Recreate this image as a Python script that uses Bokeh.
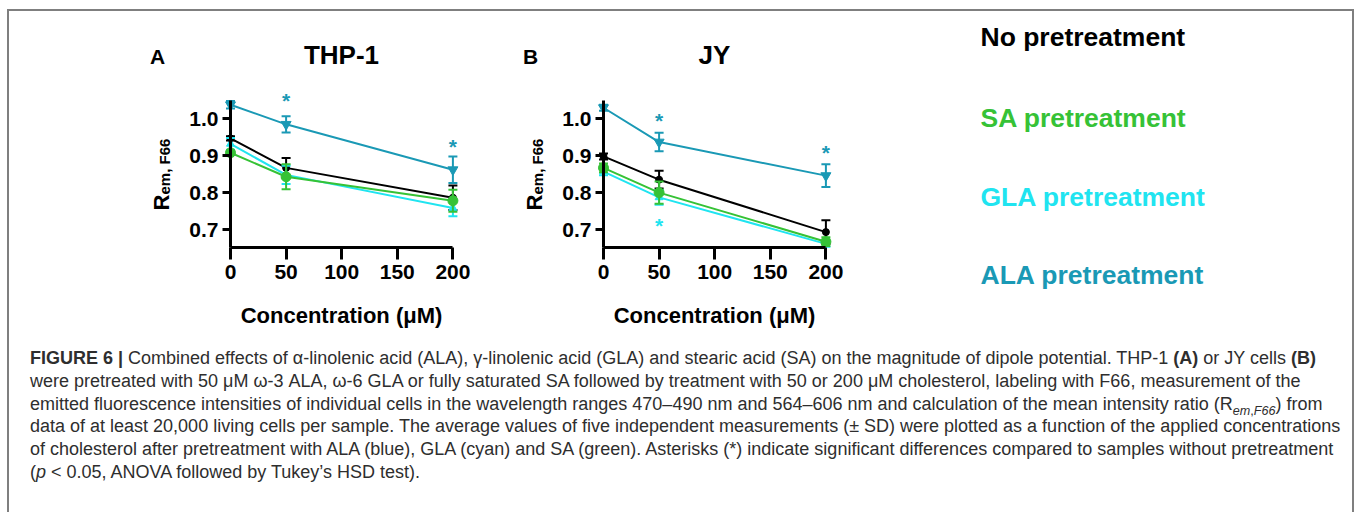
import numpy as np
from bokeh.plotting import figure
from bokeh.models import Range1d, LinearAxis, FixedTicker, NumeralTickFormatter, Div
from bokeh.layouts import column, row
from bokeh.core.properties import value
from bokeh.embed import file_html
from bokeh.resources import INLINE

# ---------------- data ----------------
conc = [0, 50, 200]
x_ticks = [0, 50, 100, 150, 200]
y_ticks = [0.7, 0.8, 0.9, 1.0]

series = ["No pretreatment", "SA pretreatment", "GLA pretreatment", "ALA pretreatment"]
colors = ["#000000", "#36c236", "#20e4f0", "#1a99b5"]

# THP-1 (panel A): mean and SD
thp_no = [0.947, 0.867, 0.786]
thp_no_sd = [0.006, 0.027, 0.033]
thp_sa = [0.908, 0.843, 0.778]
thp_sa_sd = [0.006, 0.034, 0.030]
thp_gla = [0.932, 0.848, 0.758]
thp_gla_sd = [0.016, 0.025, 0.022]
thp_ala = [1.038, 0.985, 0.862]
thp_ala_sd = [0.010, 0.022, 0.036]

# JY (panel B): mean and SD
jy_no = [0.898, 0.835, 0.693]
jy_no_sd = [0.008, 0.024, 0.032]
jy_sa = [0.867, 0.800, 0.667]
jy_sa_sd = [0.012, 0.030, 0.012]
jy_gla = [0.857, 0.787, 0.661]
jy_gla_sd = [0.010, 0.020, 0.008]
jy_ala = [1.030, 0.937, 0.846]
jy_ala_sd = [0.008, 0.025, 0.031]

# significance asterisks (concentration, R value, series index)
thp_star_x = [50, 200]
thp_star_y = [1.055, 0.930]
thp_star_s = [3, 3]
jy_star_x = [50, 200, 50]
jy_star_y = [1.001, 0.914, 0.716]
jy_star_s = [3, 3, 2]

caption_lines = [
    "<b>FIGURE 6 |</b> Combined effects of &alpha;-linolenic acid (ALA), &gamma;-linolenic acid (GLA) and stearic acid (SA) on the magnitude of dipole potential. THP-1 <b>(A)</b> or JY cells <b>(B)</b>",
    "were pretreated with 50 &mu;M &omega;-3 ALA, &omega;-6 GLA or fully saturated SA followed by treatment with 50 or 200 &mu;M cholesterol, labeling with F66, measurement of the",
    "emitted fluorescence intensities of individual cells in the wavelength ranges 470&ndash;490 nm and 564&ndash;606 nm and calculation of the mean intensity ratio (R<sub style=\"line-height:0; font-size:70%\"><i>em</i>,<i>F66</i></sub>) from",
    "data of at least 20,000 living cells per sample. The average values of five independent measurements (&plusmn; SD) were plotted as a function of the applied concentrations",
    "of cholesterol after pretreatment with ALA (blue), GLA (cyan) and SA (green). Asterisks (*) indicate significant differences compared to samples without pretreatment",
    "(<i>p</i> &lt; 0.05, ANOVA followed by Tukey&rsquo;s HSD test).",
]

# ---------------- styling / layout ----------------
FONT = "Liberation Sans"
markers = ["circle", "circle", "triangle", "inverted_triangle"]
msizes = [7, 10, 8, 10]
draw_order = [0, 2, 1, 3]

SX = 1.112   # px per uM
SY = 369.0   # px per R unit
Y1 = 107.3   # px from figure top where R = 1.0
H = 327


def bare_figure(width, x_range, y_range):
    p = figure(width=width, height=H, x_range=x_range, y_range=y_range,
               output_backend="svg", toolbar_location=None,
               x_axis_location=None, y_axis_location=None, min_border=0,
               outline_line_color=None, background_fill_color="white",
               border_fill_color="white")
    p.xgrid.visible = False
    p.ygrid.visible = False
    return p


def make_panel(width, ox, letter, title, means, sds, st_x, st_y, st_s):
    x0 = -ox / SX
    x1 = (width - ox) / SX
    ytop = 1.0 + Y1 / SY
    ybot = 1.0 - (H - Y1) / SY
    p = bare_figure(width, Range1d(x0, x1), Range1d(ybot, ytop))

    def PX(dx):
        return dx / SX

    def PY(py):
        return 1.0 - (py - Y1) / SY

    # axes
    xa = LinearAxis(ticker=FixedTicker(ticks=x_ticks), fixed_location=0.65, bounds=(0, 200))
    ya = LinearAxis(ticker=FixedTicker(ticks=y_ticks), fixed_location=0, bounds=(0.65, 1.05),
                    formatter=NumeralTickFormatter(format="0.0"))
    for ax, tout, so in ((xa, 12, 5), (ya, 8, 4)):
        ax.axis_line_width = 3
        ax.axis_line_color = "black"
        ax.major_tick_line_width = 3
        ax.major_tick_line_color = "black"
        ax.major_tick_out = tout
        ax.major_tick_in = 0
        ax.minor_tick_line_color = None
        ax.major_label_text_font = FONT
        ax.major_label_text_font_style = "bold"
        ax.major_label_text_font_size = "21px"
        ax.major_label_text_color = "black"
        ax.major_label_standoff = so
    p.add_layout(xa, "below")
    p.add_layout(ya, "left")

    # series
    for i in draw_order:
        m = np.array(means[i])
        s = np.array(sds[i])
        c = colors[i]
        p.line(conc, m, line_color=c, line_width=2)
        p.segment(x0=conc, y0=m - s, x1=conc, y1=m + s, line_color=c, line_width=2)
        p.scatter(x=conc + conc, y=list(m - s) + list(m + s), marker="dash", size=9,
                  line_color=c, line_width=2)
        p.scatter(x=conc, y=m, marker=markers[i], size=msizes[i], fill_color=c, line_color=c)

    # asterisks
    p.text(x=st_x, y=st_y, text=["*"] * len(st_x), text_color=[colors[k] for k in st_s],
           text_font=value(FONT), text_font_style="bold", text_font_size="21px",
           text_align="center", text_baseline="middle", y_offset=2)

    # texts
    bold = dict(text_font=value(FONT), text_font_style="bold", text_color="black")
    p.text(x=[PX(-73)], y=[PY(45)], text=[letter], text_font_size="21px",
           text_align="center", text_baseline="middle", **bold)
    p.text(x=[PX(111)], y=[PY(43)], text=[title], text_font_size="26px",
           text_align="center", text_baseline="middle", **bold)
    p.text(x=[PX(111)], y=[PY(304)], text=["Concentration (\u03bcM)"], text_font_size="22px",
           text_align="center", text_baseline="middle", **bold)
    p.text(x=[PX(-69)], y=[PY(199)], text=["R"], angle=np.pi / 2, text_font_size="22px",
           text_align="left", text_baseline="alphabetic", **bold)
    p.text(x=[PX(-66)], y=[PY(183)], text=["em, F66"], angle=np.pi / 2, text_font_size="15px",
           text_align="left", text_baseline="alphabetic", **bold)
    return p


pA = make_panel(481, 221, "A", "THP-1",
                [thp_no, thp_sa, thp_gla, thp_ala],
                [thp_no_sd, thp_sa_sd, thp_gla_sd, thp_ala_sd],
                thp_star_x, thp_star_y, thp_star_s)
pB = make_panel(390, 113, "B", "JY",
                [jy_no, jy_sa, jy_gla, jy_ala],
                [jy_no_sd, jy_sa_sd, jy_gla_sd, jy_ala_sd],
                jy_star_x, jy_star_y, jy_star_s)

leg = bare_figure(472, Range1d(0, 472), Range1d(H, 0))
leg_rows = [25, 106, 185, 263]
leg.text(x=[100] * 4, y=leg_rows, text=series, text_color=colors, text_font=value(FONT),
         text_font_style="bold", text_font_size="26.5px", text_align="left", text_baseline="middle")

cap_html = ('<div style="font-family: \'Liberation Sans\', Arial, sans-serif; '
            'font-size: 18px; line-height: 22.8px; color: #2e2e2e; white-space: nowrap; '
            'padding: 4px 0 0 16px;">' + "<br>".join(caption_lines) + '</div>')
cap = Div(text=cap_html, width=1343, height=174)

layout = column(row(pA, pB, leg), cap, width=1343, height=501, sizing_mode="fixed",
                styles={"margin-left": "7px", "margin-top": "9px",
                        "box-sizing": "content-box",
                        "width": "1343px",
                        "border-top": "2px solid #7f7f7f", "border-left": "2px solid #7f7f7f",
                        "border-right": "2px solid #7f7f7f"})

open("out.html", "w").write(file_html(layout, INLINE))
